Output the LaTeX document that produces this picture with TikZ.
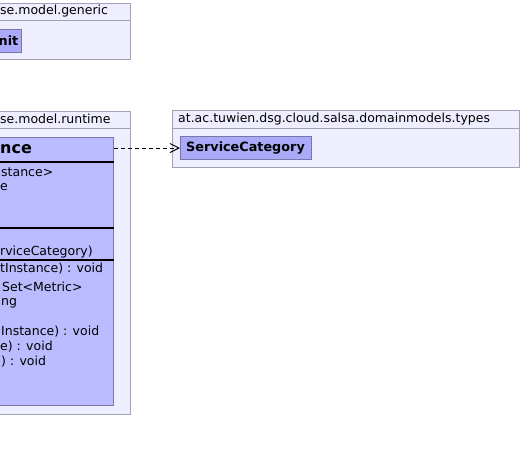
\documentclass[tikz,border=0pt]{standalone}
\usepackage{fontspec}
\setmainfont{DejaVu Sans}
\usepackage{xcolor}
\usetikzlibrary{arrows.meta}
\usetikzlibrary{positioning}
\definecolor{pkgfill}{HTML}{EEEEFF}
\definecolor{pkgline}{HTML}{A2A2B6}
\definecolor{clsfill}{HTML}{BBBBFF}
\definecolor{clsline}{HTML}{7878A8}
\definecolor{typefill}{HTML}{AAAAF8}
\tikzstyle{package} = [rectangle, draw=pkgline, fill=pkgfill, line width=1pt,
    inner sep=0pt, anchor=north east]
\tikzstyle{classbox} = [rectangle, draw=clsline, fill=clsfill, line width=1pt,
    inner sep=0pt, anchor=north east]
\tikzstyle{typebox} = [rectangle, draw=clsline, fill=typefill, line width=1pt,
    inner sep=0pt, anchor=north west]
\tikzstyle{txt} = [anchor=west, inner sep=0pt, font=\fontsize{12.5}{14}\selectfont]
\tikzstyle{bold} = [txt, font=\fontsize{12.8}{14}\selectfont\bfseries]

\begin{document}
\begin{tikzpicture}[x=1pt,y=-1pt]
    \useasboundingbox (0,0) rectangle (522,451);
    \clip (0,0) rectangle (522,451);

    % package ...model.generic
    \node[package, minimum width=300pt, minimum height=56pt] (generic) at (131,3) {};
    \draw[pkgline, line width=1pt] (generic.west |- 0,20) -- (generic.east |- 0,20);
    \node[txt] (gentitle) at (0,11.5) {se.model.generic};
    \node[classbox, fill=typefill, minimum width=100pt, minimum height=23pt] (unit) at (21.5,29) {};
    \node[bold] (unitname) at (-1.5,40.5) {nit};

    % package ...model.runtime
    \node[package, minimum width=300pt, minimum height=303pt] (runtime) at (131,111) {};
    \draw[pkgline, line width=1pt] (runtime.west |- 0,128) -- (runtime.east |- 0,128);
    \node[txt] (runtitle) at (0,119) {se.model.runtime};

    \node[classbox, minimum width=250pt, minimum height=268pt] (instance) at (114,137) {};
    \node[bold, font=\fontsize{16}{18}\selectfont\bfseries] (instname) at (0,149) {nce};
    \draw[black, line width=1.2pt] (instance.west |- 0,162) -- (instance.east |- 0,162);
    \node[txt] (attr1) at (1,172) {stance>};
    \node[txt] (attr2) at (0,187) {e};
    \draw[black, line width=1.2pt] (instance.west |- 0,228) -- (instance.east |- 0,228);
    \node[txt] (ctor) at (0,252) {rviceCategory)};
    \draw[black, line width=1.2pt] (instance.west |- 0,260) -- (instance.east |- 0,260);
    \node[txt] (op1) at (0,269) {tInstance) : void};
    \node[txt] (op2) at (2,287) {Set<Metric>};
    \node[txt] (op3) at (1,303) {ng};
    \node[txt] (op4) at (1,332) {Instance) : void};
    \node[txt] (op5) at (0,347) {e) : void};
    \node[txt] (op6) at (1,362) {) : void};

    % package ...domainmodels.types
    \node[package, anchor=north west, minimum width=347pt, minimum height=57pt] (types) at (172,110) {};
    \draw[pkgline, line width=1pt] (types.west |- 0,128) -- (types.east |- 0,128);
    \node[txt] (typetitle) at (178,119) {at.ac.tuwien.dsg.cloud.salsa.domainmodels.types};
    \node[typebox, minimum width=131pt, minimum height=23pt] (category) at (180,136) {};
    \node[bold] (catname) at (186,148) {ServiceCategory};

    \draw[line width=1pt, dash pattern=on 4pt off 3pt, -{Straight Barb[length=9pt,width=9pt]}]
        (category.west -| instance.east) -- (category.west);
\end{tikzpicture}
\end{document}
